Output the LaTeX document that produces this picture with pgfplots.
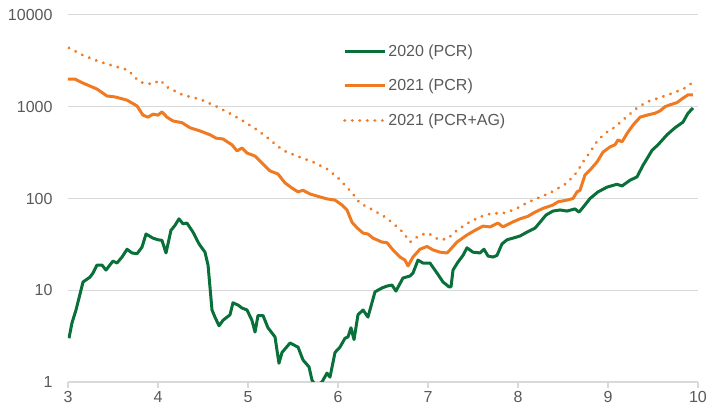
\documentclass[border=0pt]{standalone}
\usepackage{pgfplots}
\pgfplotsset{compat=1.18}
\usepackage{fontspec}
\setmainfont{Liberation Sans}
\definecolor{cgreen}{RGB}{10,112,58}
\definecolor{corange}{RGB}{240,122,34}
\definecolor{ctext}{RGB}{89,89,89}
\definecolor{cgrid}{RGB}{217,217,217}
\begin{document}
\begin{tikzpicture}
\useasboundingbox (-68bp,-26bp) rectangle (641bp,382bp);
\begin{axis}[
  at={(0,0)}, anchor=south west,
  scale only axis, width=630bp, height=367bp,
  ymode=log, ymin=1, ymax=10000, xmin=3, xmax=10,
  axis x line*=bottom, axis y line*=left,
  x axis line style={cgrid, line width=1.2bp, -},
  y axis line style={draw=none, -},
  ytick={1,10,100,1000,10000}, yticklabels={1,10,100,1000,10000},
  xtick={3,4,5,6,7,8,9,10}, xticklabels={3,4,5,6,7,8,9,10},
  ymajorgrids, grid style={cgrid, line width=1bp},
  tick align=outside, major tick length=6bp,
  xtick style={cgrid, line width=1.2bp}, ytick style={draw=none},
  minor tick num=0, log basis y=10,
  every tick label/.append style={font=\fontsize{16bp}{18bp}\selectfont, text=ctext},
  yticklabel style={xshift=-6bp},
  legend style={at={(0.4365,0.925)}, anchor=north west, draw=none, fill=none,
    font=\fontsize{16bp}{18bp}\selectfont, text=ctext, row sep=17.5bp,
    inner sep=0pt, nodes={inner sep=2bp}},
  legend cell align=left,
  legend image code/.code={\draw[#1] (0bp,0bp) -- (40bp,0bp);},
]
\addplot[cgreen, line width=3bp, line join=round] coordinates {
(3.011,3.0) (3.044,4.4) (3.089,6.1) (3.122,8.2) (3.167,12.3) (3.244,13.9) (3.278,15.4)
(3.322,18.8) (3.378,18.8) (3.422,16.6) (3.5,20.8) (3.544,19.8) (3.6,23) (3.656,28)
(3.711,25.5) (3.767,25) (3.822,29.5) (3.867,41) (3.944,37) (4.0,35.5) (4.044,35)
(4.089,25.5) (4.144,45) (4.189,51) (4.233,60) (4.278,53) (4.322,54) (4.389,43)
(4.456,32) (4.522,26) (4.556,18.8) (4.6,6.1) (4.633,5.1) (4.678,4.1) (4.722,4.7)
(4.8,5.4) (4.833,7.3) (4.889,6.9) (4.933,6.4) (4.989,6.1) (5.044,4.7) (5.078,3.5)
(5.111,5.3) (5.167,5.3) (5.222,3.9) (5.3,3.1) (5.344,1.6) (5.378,2.1) (5.467,2.66)
(5.556,2.4) (5.611,1.74) (5.678,1.46) (5.711,1.05) (5.756,0.9) (5.822,1.0)
(5.878,1.25) (5.911,1.13) (5.967,2.1) (6.022,2.4) (6.078,3.0) (6.111,3.1) (6.144,3.9)
(6.178,2.9) (6.222,5.4) (6.278,6.1) (6.333,5.1) (6.411,9.6) (6.489,10.6) (6.544,11.1)
(6.6,11.4) (6.644,9.8) (6.722,13.6) (6.8,14.3) (6.833,15.4) (6.889,21.3) (6.944,19.8)
(7.022,19.8) (7.1,15.4) (7.167,12.3) (7.233,10.9) (7.256,10.9) (7.278,16.6)
(7.333,20.3) (7.389,24) (7.433,29) (7.5,26) (7.578,25.5) (7.622,28) (7.667,23.6)
(7.722,23) (7.767,24) (7.822,32) (7.878,35.5) (7.944,37) (8.022,39) (8.1,43)
(8.189,47.5) (8.244,55) (8.311,66) (8.389,73) (8.467,75) (8.544,73) (8.633,77)
(8.678,71) (8.744,85) (8.8,100) (8.889,118) (8.989,133) (9.1,143) (9.156,137)
(9.244,158) (9.322,172) (9.389,230) (9.489,335) (9.556,385) (9.656,495) (9.744,590)
(9.833,680) (9.889,850) (9.944,970)
};
\addlegendentry{2020 (PCR)}
\addplot[corange, line width=3bp, line join=round] coordinates {
(3.0,2000) (3.078,2000) (3.167,1810) (3.322,1560) (3.433,1310) (3.522,1280)
(3.656,1180) (3.767,1020) (3.833,810) (3.889,770) (3.944,830) (4.0,810) (4.044,880)
(4.1,770) (4.167,700) (4.267,670) (4.356,590) (4.467,545) (4.578,495) (4.644,455)
(4.722,445) (4.822,385) (4.878,330) (4.933,355) (4.989,313) (5.078,290) (5.156,244)
(5.244,200) (5.333,185) (5.411,148) (5.489,130) (5.556,118) (5.611,123) (5.689,112)
(5.8,104) (5.878,99) (5.967,96) (6.044,85) (6.1,75) (6.156,55) (6.211,48) (6.278,42)
(6.333,41) (6.389,37) (6.489,33.5) (6.544,33) (6.611,27.5) (6.689,23) (6.744,21.3)
(6.778,18.4) (6.833,23) (6.911,28) (6.989,30) (7.056,27.5) (7.133,26) (7.211,25.5)
(7.244,27.5) (7.322,33.5) (7.433,40) (7.522,45) (7.611,50) (7.689,49) (7.778,54)
(7.833,49) (7.933,55) (8.022,60) (8.111,64) (8.189,71) (8.278,78) (8.389,85)
(8.444,92) (8.544,96) (8.611,100) (8.656,118) (8.689,123) (8.744,180) (8.8,204)
(8.878,250) (8.944,320) (9.022,365) (9.078,385) (9.111,435) (9.156,415) (9.222,530)
(9.278,630) (9.356,770) (9.433,810) (9.522,850) (9.578,900) (9.633,1000) (9.689,1050)
(9.767,1110) (9.822,1220) (9.889,1350) (9.944,1350)
};
\addlegendentry{2021 (PCR)}
\addplot[corange, line width=3.2bp, line cap=round, dash pattern=on 0.01bp off 7.5bp] coordinates {
(3.011,4380) (3.167,3640) (3.356,3080) (3.667,2510) (3.8,1850) (3.944,1760)
(4.022,1960) (4.1,1640) (4.278,1340) (4.467,1210) (4.656,1000) (4.833,810)
(4.967,680) (5.1,560) (5.222,455) (5.389,335) (5.544,290) (5.722,250) (5.878,210)
(5.989,172) (6.078,140) (6.156,115) (6.244,89) (6.389,75) (6.544,61) (6.667,48)
(6.722,43) (6.8,33.5) (6.911,40) (7.0,42) (7.111,36) (7.211,36) (7.322,45)
(7.444,54) (7.578,63) (7.711,69) (7.833,69) (7.944,75) (8.022,81) (8.1,90)
(8.356,115) (8.544,147) (8.656,195) (8.722,250) (8.8,320) (8.889,435) (8.989,530)
(9.078,600) (9.189,750) (9.322,970) (9.433,1130) (9.556,1240) (9.722,1410)
(9.856,1600) (9.933,1820)
};
\addlegendentry{2021 (PCR+AG)}
\end{axis}
\end{tikzpicture}
\end{document}
